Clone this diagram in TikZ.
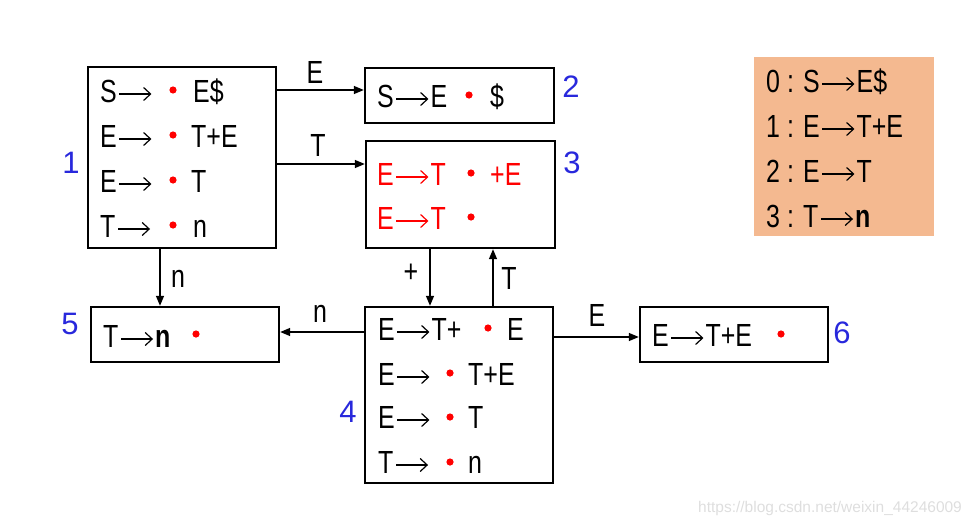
\documentclass[tikz,border=0pt]{standalone}
\usepackage{fontspec}
\setmainfont{Liberation Sans}[FakeStretch=0.78]
\newfontfamily\plainsans{Liberation Sans}
\usetikzlibrary{arrows.meta}
\definecolor{lblblue}{RGB}{40,40,220}
\definecolor{peach}{RGB}{244,185,144}
\newcommand{\ar}{\kern2pt\tikz[baseline=0pt,x=1pt,y=1pt]\draw[line width=1.2pt,-{Straight Barb[length=7pt,width=13pt,line width=1.2pt]}] (0,8) -- (32,8);\kern1.5pt}
\begin{document}
\begin{tikzpicture}[x=1pt,y=-1pt,
  every node/.style={inner sep=0pt,font=\fontsize{32}{38}\selectfont},
  box/.style={draw,line width=2.4pt,minimum width=#1,rectangle},
  txt/.style={anchor=base west},
  num/.style={text=lblblue,font=\plainsans\fontsize{31}{36}\selectfont},
  elab/.style={},
  arr/.style={line width=1.4pt,-{Triangle[length=10pt,width=8pt]}},
  rdot/.style={fill=red}]
\useasboundingbox (0,0) rectangle (979,525);
% boxes
\node[box=188pt,minimum height=181pt] (b1) at (182,157.5) {};
\node[box=189pt,minimum height=55pt] (b2) at (459.5,95.5) {};
\node[box=189pt,minimum height=107pt] (b3) at (460.5,194.5) {};
\node[box=188pt,minimum height=176pt] (b4) at (459,395) {};
\node[box=188pt,minimum height=55pt] (b5) at (185,334.5) {};
\node[box=188pt,minimum height=55pt] (b6) at (734,334.5) {};
\node[fill=peach,minimum width=180pt,minimum height=179pt] (leg) at (844,146.5) {};
% box 1
\node[txt] (t11) at (100,102) {S\ar};
\node[txt] (t12) at (193,102) {E\$};
\node[txt] (t21) at (100,147) {E\ar};
\node[txt] (t22) at (191,147) {T+E};
\node[txt] (t31) at (100,192) {E\ar};
\node[txt] (t32) at (191,192) {T};
\node[txt] (t41) at (100,237) {T\ar};
\node[txt] (t42) at (193,237) {n};
\fill[rdot] (173,90) circle (3.6) (173,135) circle (3.6) (173,180) circle (3.6) (173,225) circle (3.6);
% box 2
\node[txt] (u11) at (377,107) {S\ar E};
\node[txt] (u12) at (490,107) {\$};
\fill[rdot] (469,95) circle (3.6);
% box 3
\node[txt,text=red] (v11) at (377,185) {E\ar T};
\node[txt,text=red] (v12) at (490,185) {+E};
\node[txt,text=red] (v21) at (377,229) {E\ar T};
\fill[rdot] (471,173) circle (3.6) (471,217) circle (3.6);
% box 5
\node[txt] (w11) at (103,347) {T\ar\textbf{n}};
\fill[rdot] (196,334) circle (3.6);
% box 4
\node[txt] (x11) at (378,340) {E\ar T+};
\node[txt] (x12) at (507,340) {E};
\node[txt] (x21) at (378,385) {E\ar};
\node[txt] (x22) at (468,385) {T+E};
\node[txt] (x31) at (378,428) {E\ar};
\node[txt] (x32) at (468,428) {T};
\node[txt] (x41) at (378,473) {T\ar};
\node[txt] (x42) at (468,473) {n};
\fill[rdot] (488,328) circle (3.6) (450,373) circle (3.6) (450,417) circle (3.6) (450,462) circle (3.6);
% box 6
\node[txt] (y11) at (652,346) {E\ar T+E};
\fill[rdot] (781,334) circle (3.6);
% legend
\node[txt] (g1) at (766,92) {0 : S\ar E\$};
\node[txt] (g2) at (766,137) {1 : E\ar T+E};
\node[txt] (g3) at (766,182) {2 : E\ar T};
\node[txt] (g4) at (766,227) {3 : T\ar\textbf{n}};
% state numbers
\node[num] (n1) at (71,163) {1};
\node[num] (n2) at (571,87) {2};
\node[num] (n3) at (572,163) {3};
\node[num] (n4) at (348,412) {4};
\node[num] (n5) at (70,324) {5};
\node[num] (n6) at (842,333) {6};
% connector guides
\coordinate (h1) at (0,90);
\coordinate (h2) at (0,164);
\coordinate (h3) at (0,332);
\coordinate (h4) at (0,337);
\coordinate (v1) at (160,0);
\coordinate (v2) at (430,0);
\coordinate (v3) at (493,0);
\draw[arr] (b1.east |- h1) -- (b2.west |- h1);
\draw[arr] (b1.east |- h2) -- (b3.west |- h2);
\draw[arr] (b1.south -| v1) -- (b5.north -| v1);
\draw[arr] (b3.south -| v2) -- (b4.north -| v2);
\draw[arr] (b4.north -| v3) -- (b3.south -| v3);
\draw[arr] (b4.west |- h3) -- (b5.east |- h3);
\draw[arr] (b4.east |- h4) -- (b6.west |- h4);
% edge labels
\node[elab] (e1) at (315,72) {E};
\node[elab] (e2) at (318,145) {T};
\node[elab] (e3) at (178,279) {n};
\node[elab] (e4) at (411,273) {+};
\node[elab] (e5) at (509,278) {T};
\node[elab] (e6) at (320,314) {n};
\node[elab] (e7) at (597,315) {E};
% watermark
\node[txt,text=black!13,font=\plainsans\fontsize{15.5}{18}\selectfont] (wm) at (698,512) {https://blog.csdn.net/weixin\_44246009};
\end{tikzpicture}
\end{document}
